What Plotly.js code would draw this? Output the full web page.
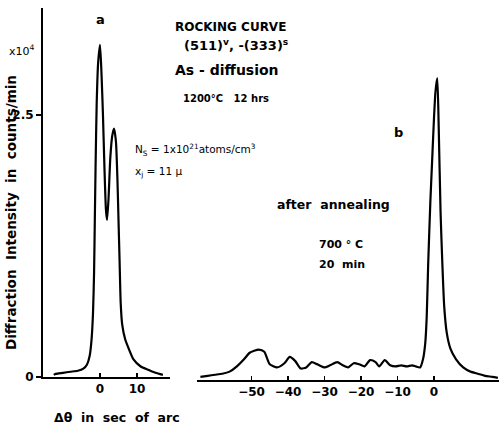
<!DOCTYPE html>
<html>
<head>
<meta charset="utf-8">
<script src="https://cdn.plot.ly/plotly-3.0.1.min.js"></script>
<style>html,body{margin:0;padding:0;background:#fff;}#chart{width:499px;height:424px;}</style>
</head>
<body>
<div id="chart"></div>
<script>
// Panel a: as-diffusion rocking curve (Δθ in sec of arc, intensity ×10^4 counts/min)
const thetaA = [-12.5,-12,-10,-8,-6,-4.5,-3.5,-2.8,-2.3,-1.9,-1.6,-1.4,-1.2,-0.9,-0.5,0,0.4,0.8,1.2,1.6,1.9,2.3,2.8,3.3,3.8,4.3,4.7,5.0,5.3,5.6,6.0,6.8,8,9,11,13,15,17];
const intensityA = [0.02,0.03,0.04,0.05,0.06,0.08,0.12,0.2,0.35,0.6,1.0,1.5,2.0,2.6,3.0,3.17,2.9,2.5,2.0,1.6,1.5,1.7,2.1,2.3,2.37,2.25,1.9,1.5,1.1,0.7,0.5,0.36,0.25,0.17,0.1,0.07,0.04,0.02];

// Panel b: after annealing 700°C 20 min
const thetaB = [-64,-62,-60,-58,-56,-54,-52,-50.5,-48,-46.5,-45,-43,-41,-39.5,-38,-36.5,-35,-33.5,-32,-30,-28.5,-26.5,-25,-23.5,-22,-20.5,-19,-17.5,-16,-15,-13.5,-12,-10.5,-9,-7.5,-6,-5,-3.8,-3,-2.4,-2,-1.6,-1.0,-0.5,0,0.4,0.9,1.3,1.8,2.3,2.8,3.5,4.5,6,8,10,12,14,16,17.5];
const intensityB = [0.03,0.04,0.05,0.06,0.08,0.13,0.2,0.26,0.29,0.27,0.15,0.12,0.16,0.22,0.18,0.11,0.12,0.17,0.15,0.12,0.14,0.17,0.14,0.12,0.16,0.15,0.13,0.19,0.17,0.13,0.19,0.14,0.13,0.14,0.13,0.14,0.13,0.12,0.2,0.35,0.6,1.1,1.7,2.1,2.5,2.75,2.88,2.4,1.6,1.1,0.7,0.45,0.3,0.2,0.12,0.08,0.06,0.04,0.03,0.02];

const ticksA = [0, 10];
const ticksB = [-50, -40, -30, -20, -10, 0];
const yTicks = [0, 2.5];
const yTickText = ['0', '2.5'];

const F = 'DejaVu Sans, sans-serif';
const W = 499, H = 424;
const px = v => v / W;
const py = v => 1 - v / H;
const tickFont = {family: F, size: 12, color: '#000', weight: 'bold'};

const traces = [
  {x: thetaA, y: intensityA, xaxis: 'x', yaxis: 'y', mode: 'lines', line: {color: '#000', width: 2.2, shape: 'spline', smoothing: 0.6}, hoverinfo: 'skip'},
  {x: thetaB, y: intensityB, xaxis: 'x2', yaxis: 'y2', mode: 'lines', line: {color: '#000', width: 2.2, shape: 'spline', smoothing: 0.6}, hoverinfo: 'skip'}
];

function ann(text, x, y, size, opts, weight) {
  return Object.assign({text: text, x: px(x), y: py(y), xref: 'paper', yref: 'paper', showarrow: false, xanchor: 'center', yanchor: 'middle',
    font: {family: F, size: size, color: '#000', weight: weight || 'bold'}}, opts || {});
}

const layout = {
  width: W, height: H,
  margin: {l: 0, r: 0, t: 0, b: 0},
  paper_bgcolor: '#fff', plot_bgcolor: 'rgba(0,0,0,0)',
  showlegend: false,
  xaxis: {domain: [px(43), px(170)], range: [(43-100)/3.7, (170-100)/3.7], anchor: 'y',
    showline: true, linecolor: '#000', linewidth: 2, showgrid: false, zeroline: false,
    tickmode: 'array', tickvals: ticksA, ticks: 'inside', ticklen: 4, tickcolor: '#000', tickwidth: 1.5,
    tickfont: tickFont},
  yaxis: {domain: [py(377), py(8)], range: [0, (377-8)/104.8], anchor: 'x',
    showline: true, linecolor: '#000', linewidth: 2, showgrid: false, zeroline: false,
    tickmode: 'array', tickvals: yTicks, ticktext: yTickText, ticks: 'outside', ticklen: 5, tickcolor: '#000', tickwidth: 1.5,
    tickfont: tickFont},
  xaxis2: {domain: [px(197), 1], range: [(197-434)/3.65, (499-434)/3.65], anchor: 'y2',
    showline: true, linecolor: '#000', linewidth: 2, showgrid: false, zeroline: false,
    tickmode: 'array', tickvals: ticksB, ticks: 'inside', ticklen: 4, tickcolor: '#000', tickwidth: 1.5,
    tickfont: tickFont},
  yaxis2: {domain: [py(380), py(8)], range: [0, (380-8)/104.8], anchor: 'x2', visible: false},
  annotations: [
    ann('a', 100, 20, 13),
    ann('ROCKING CURVE', 230, 27, 12),
    ann('(511)<sup>v</sup>, -(333)<sup>s</sup>', 236, 45, 13),
    ann('As - diffusion', 227, 70, 14),
    ann('1200°C   12 hrs', 226, 98, 10),
    ann('N<sub>S</sub> = 1x10<sup>21</sup>atoms/cm<sup>3</sup>', 133, 150, 10.5, {xanchor: 'left'}, 'normal'),
    ann('x<sub>j</sub> = 11 μ', 133, 172, 10.5, {xanchor: 'left'}, 'normal'),
    ann('b', 398, 133, 13),
    ann('after  annealing', 333, 205, 12.5),
    ann('700 ° C', 317, 244, 11, {xanchor: 'left'}),
    ann('20  min', 317, 264, 11, {xanchor: 'left'}),
    ann('x10<sup>4</sup>', 22, 50, 11, null, 'normal'),
    ann('Diffraction  Intensity  in  counts/min', 11, 213, 13.5, {textangle: -90}),
    ann('Δθ  in  sec  of  arc', 117, 417, 12.5)
  ]
};

Plotly.newPlot('chart', traces, layout, {staticPlot: true, displayModeBar: false});
</script>
</body>
</html>
